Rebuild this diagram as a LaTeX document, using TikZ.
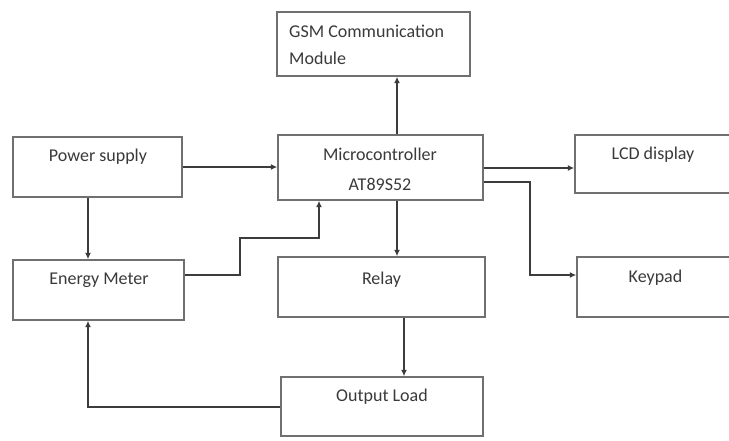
\documentclass[tikz,border=0pt]{standalone}
\usepackage{fontspec}
\setmainfont{Carlito}
\usetikzlibrary{arrows.meta,calc}
\definecolor{boxline}{HTML}{707070}
\definecolor{wire}{HTML}{3C3C3C}
\definecolor{ink}{HTML}{3A3A3A}
\begin{document}
\begin{tikzpicture}[x=1pt,y=-1pt,
  blk/.style={draw=boxline,line width=1.4pt,rectangle,inner sep=0pt,anchor=center},
  txt/.style={text=ink,inner sep=0pt,anchor=base,font=\fontsize{18}{21}\selectfont},
  arr/.style={draw=wire,line width=1.3pt,-{Latex[length=6.5pt,width=6pt]}}]
\useasboundingbox (0,0) rectangle (729,441);
\clip (0,0) rectangle (729,441);
\fill[white] (0,0) rectangle (729,441);

% blocks
\node[blk,minimum width=193pt,minimum height=64pt] (gsm)    at (373.5,44)  {};
\node[blk,minimum width=169pt,minimum height=60pt] (power)  at (97.5,167)  {};
\node[blk,minimum width=171pt,minimum height=60pt] (meter)  at (98.5,290)  {};
\node[blk,minimum width=205pt,minimum height=65pt] (micro)  at (380.5,167.5) {};
\node[blk,minimum width=207pt,minimum height=60pt] (relay)  at (381.5,287) {};
\node[blk,minimum width=202pt,minimum height=59pt] (load)   at (382,406.5) {};
% these two run past the right edge of the sheet
\node[blk,minimum width=240pt,minimum height=58pt] (lcd)    at (695,164) {};
\node[blk,minimum width=240pt,minimum height=60pt] (keypad) at (697,287) {};

% labels
\node[txt,anchor=base west] (tgsmA) at (289,38) {GSM Communication};
\node[txt,anchor=base west] (tgsmB) at (289,65) {Module};
\node[txt] (tpower) at (98,162) {Power supply};
\node[txt] (tmeter) at (99,284) {Energy Meter};
\node[txt] (tmicroA) at (380,161) {Microcontroller};
\node[txt] (tmicroB) at (380,191) {AT89S52};
\node[txt] (trelay) at (381.5,284) {Relay};
\node[txt] (tlcd) at (653,160) {LCD display};
\node[txt] (tkey) at (655.5,283) {Keypad};
\node[txt] (tload) at (382,401.5) {Output Load};

% routing points
\coordinate (xGsm) at (397,0);
\coordinate (xLoad) at (404,0);
\coordinate (xLeft) at (88,0);
\coordinate (yLcd) at (0,168);
\coordinate (yKey) at (0,182);
\coordinate (kBend) at (530,275);
\coordinate (yMeter) at (0,275);
\coordinate (mBend) at (240,238);
\coordinate (xUp) at (319,0);
\coordinate (yLoad) at (0,407);

% connectors
\draw[arr] (power.east) -- (power.east -| micro.west);
\draw[arr] (power.south -| xLeft) -- (meter.north -| xLeft);
\draw[arr] (meter.east |- yMeter) -| (mBend) -| (micro.south -| xUp);
\draw[arr] (micro.north -| xGsm) -- (gsm.south -| xGsm);
\draw[arr] (micro.south -| xGsm) -- (relay.north -| xGsm);
\draw[arr] (relay.south -| xLoad) -- (load.north -| xLoad);
\draw[arr] (load.west |- yLoad) -| (meter.south -| xLeft);
\draw[arr] (micro.east |- yLcd) -- (lcd.west |- yLcd);
\draw[arr] (micro.east |- yKey) -| (kBend) -- (keypad.west |- kBend);
\end{tikzpicture}
\end{document}
